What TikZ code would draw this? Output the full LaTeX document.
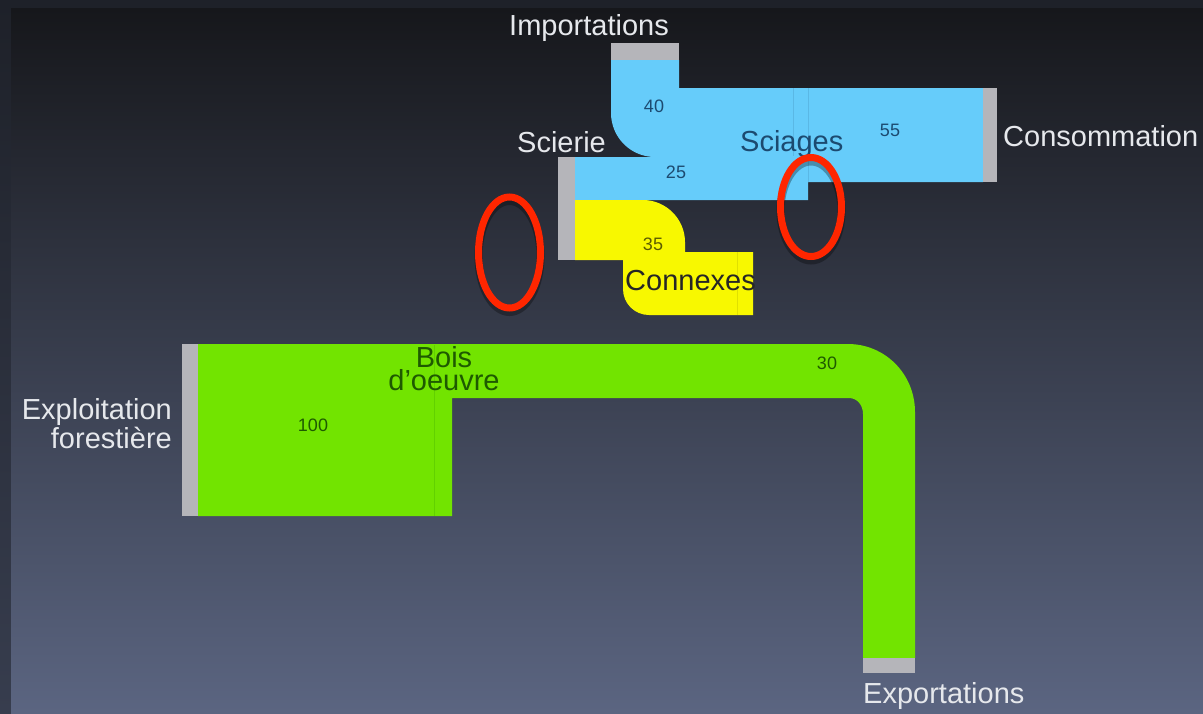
\documentclass[tikz,border=0pt]{standalone}
\usepackage{fontspec}
\setmainfont{Liberation Sans}
\usetikzlibrary{shapes.geometric}

\definecolor{panelTop}{HTML}{16171B}
\definecolor{panelBot}{HTML}{5B6581}
\definecolor{frameTop}{HTML}{1E2129}
\definecolor{frameBot}{HTML}{373D4E}
\definecolor{flowBlue}{HTML}{66CCFA}
\definecolor{flowYellow}{HTML}{F8F800}
\definecolor{flowGreen}{HTML}{72E400}
\definecolor{capGray}{HTML}{B5B5BA}
\definecolor{labelWhite}{HTML}{E6E8EC}
\definecolor{ringRed}{HTML}{FF2600}
\definecolor{inkBlue}{HTML}{1C4A70}
\definecolor{inkGreen}{HTML}{1E5A00}
\definecolor{inkYellow}{HTML}{5C5C00}

\tikzset{
  lbl/.style={text=labelWhite, font=\fontsize{29}{29}\selectfont, inner sep=0pt},
  num/.style={font=\fontsize{18}{18}\selectfont, inner sep=0pt},
  endbar/.style={fill=capGray},
  seam/.style={line width=0.8pt, opacity=0.15},
  ring/.style={draw=ringRed, line width=7pt},
  ringshadow/.style={draw=black, line width=8pt, opacity=0.3}
}

\begin{document}
\begin{tikzpicture}[x=1pt, y=-1pt]
  \useasboundingbox (0,0) rectangle (1203,713);

  % backdrop: dark frame and the slide panel with its vertical gradient
  \fill[top color=frameTop, bottom color=frameBot] (0,0) rectangle (1203,713);
  \fill[top color=panelTop, bottom color=panelBot] (11,8) rectangle (1203,713);

  % ---- green flow: forest harvest -> timber -> exports
  \fill[flowGreen] (198,344) -- (848,344)
      .. controls (885,344) and (915,374) .. (915,412)
      -- (915,658) -- (863,658) -- (863,414)
      .. controls (863,405) and (857,398) .. (849,398)
      -- (452,398) -- (452,516) -- (198,516) -- cycle;
  \draw[seam, green!40!black] (434,345) -- (434,516);
  \fill[endbar] (182,344) rectangle (198,516);
  \fill[endbar] (863,658) rectangle (915,673);

  % ---- blue flow: imports + sawmill -> sawn wood -> consumption
  \fill[flowBlue] (575,157) -- (655,157)
      .. controls (630.7,157) and (611,137.3) .. (611,113)
      -- (611,60) -- (679,60) -- (679,88) -- (983,88) -- (983,182)
      -- (808,182) -- (808,200) -- (575,200) -- cycle;
  \draw[seam, inkBlue] (793,88) -- (793,156);
  \draw[seam, inkBlue] (808,88) -- (808,182);
  \fill[endbar] (611,43) rectangle (679,60);
  \fill[endbar] (983,88) rectangle (997,182);

  % ---- yellow flow: sawmill -> by-products
  \fill[flowYellow] (575,200) -- (643,200)
      .. controls (666,200) and (685,219) .. (685,242)
      -- (685,252) -- (753,252) -- (753,315) -- (649,315)
      .. controls (634.6,315) and (623,303.4) .. (623,289)
      -- (623,260) -- (575,260) -- cycle;
  \draw[seam, inkYellow] (737,252) -- (737,315);
  \fill[endbar] (558,157) rectangle (575,260);

  % ---- labels
  \node[lbl, anchor=base] (imp) at (589,35) {Importations};
  \node[lbl, anchor=base west] (sci) at (517,152) {Scierie};
  \node[lbl, anchor=base west] (cons) at (1003,146) {Consommation};
  \node[lbl, anchor=base west, text=inkBlue] (sciag) at (740,151) {Sciages};
  \node[lbl, anchor=base west, text=black!85] (conn) at (625,290) {Connexes};
  \node[lbl, anchor=base east, align=right] (expl) at (172,448)
      {Exploitation\\forestière};
  \node[lbl, anchor=base west] (expo) at (863,703) {Exportations};
  \node[lbl, text=inkGreen, align=center, anchor=base,
        font=\fontsize{29}{19}\selectfont] (bois) at (444,390)
      {Bois\\d'oeuvre};

  % ---- flow values
  \node[num, text=inkBlue] (v40) at (654,106) {40};
  \node[num, text=inkBlue] (v55) at (890,130) {55};
  \node[num, text=inkBlue] (v25) at (676,172) {25};
  \node[num, text=inkYellow] (v35) at (653,244) {35};
  \node[num, text=inkGreen] (v100) at (313,425) {100};
  \node[num, text=inkGreen] (v30) at (827,363) {30};

  % ---- red rings marking the imbalances
  \draw[ringshadow] (509.5,256.5) ellipse [x radius=31, y radius=55.5];
  \draw[ring] (509.5,252.5) ellipse [x radius=31, y radius=55.5];
  \draw[ringshadow] (811,211) ellipse [x radius=30.5, y radius=49.5];
  \draw[ring] (811,207) ellipse [x radius=30.5, y radius=49.5];
\end{tikzpicture}
\end{document}
